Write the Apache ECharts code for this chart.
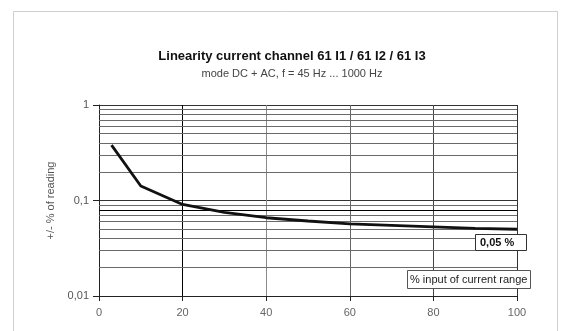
<!DOCTYPE html>
<html>
<head>
<meta charset="utf-8">
<script src="https://cdn.jsdelivr.net/npm/echarts@6/dist/echarts.min.js"></script>
<style>html,body{margin:0;padding:0;background:#fff}#c{width:570px;height:331px}</style>
</head>
<body>
<div id="c"></div>
<script>
var xValues = [3, 10, 20, 30, 40, 50, 60, 70, 80, 90, 100];
var yValues = [0.38, 0.142, 0.091, 0.075, 0.066, 0.061, 0.057, 0.055, 0.053, 0.051, 0.050];
var minorGridValues = [0.02,0.03,0.04,0.05,0.06,0.07,0.08,0.09,0.2,0.3,0.4,0.5,0.6,0.7,0.8,0.9];
var darkGridValues = [0.08];
var titleText = 'Linearity current channel 61 I1 / 61 I2 / 61 I3';
var subtitleText = 'mode DC + AC, f = 45 Hz ... 1000 Hz';
var yAxisName = '+/- % of reading';
var valueNote = '0,05 %';
var xAxisNote = '% input of current range';

var chart = echarts.init(document.getElementById('c'), null, {renderer: 'canvas'});
var font = 'Liberation Sans, Arial, sans-serif';
var markData = minorGridValues.map(function (v) {
  var dark = darkGridValues.indexOf(v) >= 0;
  return {yAxis: v, lineStyle: {color: dark ? '#000' : '#6a6a6a', width: 1, type: 'solid'}};
});
function fmtY(v) {
  if (Math.abs(v - 1) < 1e-9) return '1';
  if (Math.abs(v - 0.1) < 1e-9) return '0,1';
  if (Math.abs(v - 0.01) < 1e-9) return '0,01';
  return String(v).replace('.', ',');
}
chart.setOption({
  animation: false,
  backgroundColor: '#fff',
  graphic: [{
    type: 'rect', shape: {x: 13.5, y: 11.5, width: 544, height: 340},
    style: {fill: 'none', stroke: '#cfcfcf', lineWidth: 1}, silent: true, z: -1
  }],
  title: [
    {text: titleText, left: 287, top: 45, textAlign: 'center',
     textStyle: {fontFamily: font, fontSize: 13, fontWeight: 'bold', color: '#111'}},
    {text: subtitleText, left: 287, top: 63, textAlign: 'center',
     textStyle: {fontFamily: font, fontSize: 11, fontWeight: 'normal', color: '#444'}},
    {text: valueNote, left: 475, top: 234, padding: [3, 13, 3, 5],
     backgroundColor: '#fff', borderColor: '#333', borderWidth: 1,
     textStyle: {fontFamily: font, fontSize: 11, fontWeight: 'bold', color: '#111'}},
    {text: xAxisNote, left: 407, top: 270, padding: [4, 3, 4, 3],
     backgroundColor: '#fff', borderColor: '#555', borderWidth: 1,
     textStyle: {fontFamily: font, fontSize: 11, fontWeight: 'normal', color: '#222'}}
  ],
  grid: {left: 99, right: 53, top: 105, bottom: 35, containLabel: false},
  xAxis: {
    type: 'value', min: 0, max: 100, interval: 20,
    axisLine: {show: true, lineStyle: {color: '#222', width: 1}},
    axisTick: {show: true, inside: false, length: 5, lineStyle: {color: '#222'}},
    axisLabel: {color: '#666', fontFamily: font, fontSize: 11, margin: 11},
    splitLine: {show: true, lineStyle: {color: ['#222', '#000', '#8a8a8a', '#666', '#444', '#333'], width: 1}}
  },
  yAxis: {
    type: 'log', logBase: 10, min: 0.01, max: 1,
    name: yAxisName, nameLocation: 'middle', nameGap: 34, nameRotate: 90,
    nameTextStyle: {fontFamily: font, fontSize: 11, color: '#555'},
    axisLine: {show: true, lineStyle: {color: '#222', width: 1}},
    axisTick: {show: true, inside: false, length: 6, lineStyle: {color: '#222'}},
    axisLabel: {color: '#555', fontFamily: font, fontSize: 11, margin: 10, formatter: fmtY},
    splitLine: {show: true, lineStyle: {color: '#333', width: 1}},
    minorTick: {show: false}, minorSplitLine: {show: false}
  },
  series: [{
    type: 'line',
    data: xValues.map(function (x, i) { return [x, yValues[i]]; }),
    showSymbol: false, symbol: 'none', smooth: false,
    lineStyle: {color: '#111', width: 2.8},
    z: 5,
    markLine: {silent: true, symbol: ['none', 'none'], label: {show: false},
      animation: false, z: 1, data: markData}
  }]
});
</script>
</body>
</html>
